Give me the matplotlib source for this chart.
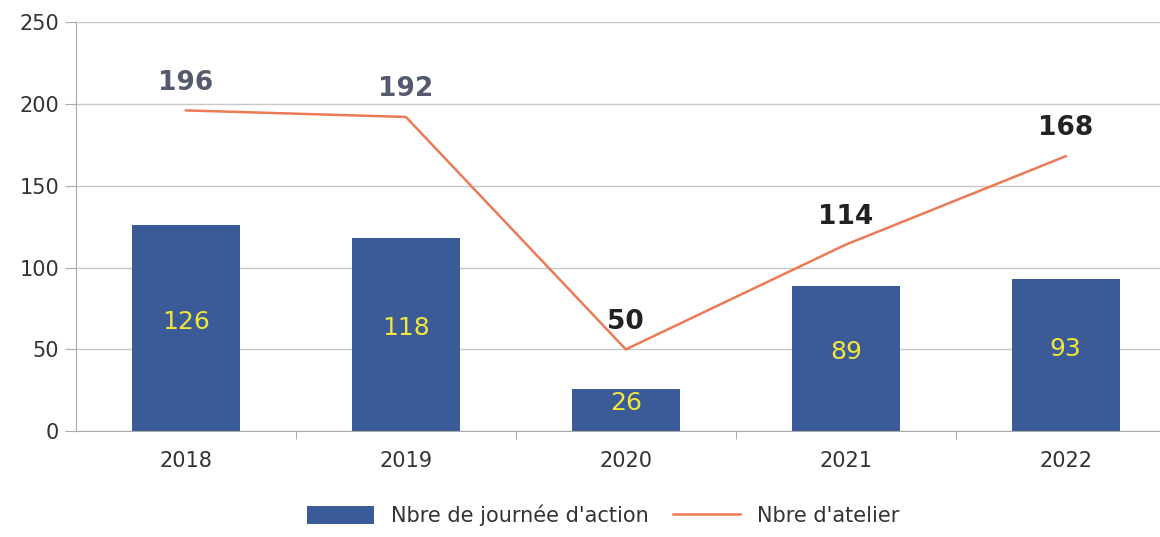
import matplotlib.pyplot as plt
import numpy as np

annees = ["2018", "2019", "2020", "2021", "2022"]
journees_action = [126, 118, 26, 89, 93]
ateliers = [196, 192, 50, 114, 168]

fig = plt.figure(figsize=(11.6, 5.37), dpi=100)
ax = fig.add_axes([0.0655, 0.197, 0.948, 0.762])

x = np.arange(len(annees))
bars = ax.bar(x, journees_action, width=0.49, color="#3b5a98", zorder=2,
              label="Nbre de journée d'action")
ligne, = ax.plot(x, ateliers, color="#ec7a55", lw=1.8, zorder=3, label="Nbre d'atelier")

# etiquettes des barres (jaunes, au milieu)
for xi, v in zip(x, journees_action):
    ax.text(xi, v / 2 + 4, str(v), ha="center", va="center",
            color="#f2e63a", fontsize=18, zorder=4)

# etiquettes de la courbe
couleurs_lab = ["#555b6e", "#555b6e", "#222222", "#222222", "#222222"]
for xi, v, c in zip(x, ateliers, couleurs_lab):
    ax.text(xi, v + 17, str(v), ha="center", va="center", color=c,
            fontsize=19, fontweight="bold", zorder=4)

ax.set_xlim(-0.5, 4.5)
ax.set_ylim(0, 250)
ax.set_yticks(range(0, 251, 50))
ax.set_xticks(x)
ax.set_xticklabels(annees)
ax.set_xticks(np.arange(0.5, 4.5, 1), minor=True)
ax.tick_params(axis="x", which="major", length=0, labelsize=15, pad=14, colors="#333333")
ax.tick_params(axis="x", which="minor", length=6, color="#999999")
ax.tick_params(axis="y", length=8, color="#aaaaaa", labelsize=15, pad=4, labelcolor="#333333")
ax.grid(axis="y", color="#c8c8c8", lw=1, zorder=0)
for s in ["top", "right"]:
    ax.spines[s].set_visible(False)
ax.spines["left"].set_color("#aaaaaa")
ax.spines["bottom"].set_color("#aaaaaa")

fig.legend([bars, ligne], ["Nbre de journée d'action", "Nbre d'atelier"],
           loc="lower center", bbox_to_anchor=(0.52, -0.015), ncol=2, frameon=False,
           fontsize=15, handlelength=3.2, handleheight=0.9, columnspacing=1.2,
           labelcolor="#333333")

fig.savefig("out.png", dpi=100)
